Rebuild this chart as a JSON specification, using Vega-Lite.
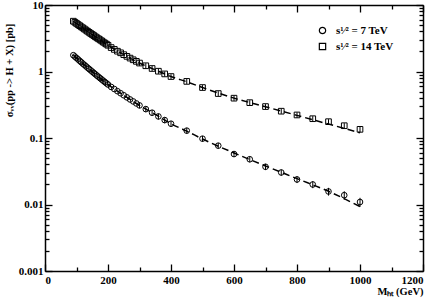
{
  "$schema": "https://vega.github.io/schema/vega-lite/v6.json",
  "width": 378,
  "height": 266,
  "autosize": {"type": "none"},
  "padding": {"left": 45, "top": 5, "right": 13, "bottom": 32},
  "background": "white",
  "config": {
    "view": {"stroke": null},
    "axis": {
      "grid": false,
      "domainColor": "black",
      "domainWidth": 1.5,
      "tickColor": "black",
      "tickWidth": 1.3,
      "labelFont": "Liberation Serif",
      "labelFontWeight": "bold",
      "labelFontSize": 11,
      "labelColor": "black",
      "titleFont": "Liberation Serif",
      "titleFontWeight": "bold",
      "titleFontSize": 10.5,
      "titleColor": "black"
    },
    "legend": {
      "labelFont": "Liberation Serif",
      "labelFontWeight": "bold",
      "labelFontSize": 11,
      "labelColor": "black"
    }
  },
  "datasets": {
    "pts": [
      {"m": 90, "xs": 1.758, "series": "7 TeV"},
      {"m": 95, "xs": 1.675, "series": "7 TeV"},
      {"m": 100, "xs": 1.596, "series": "7 TeV"},
      {"m": 105, "xs": 1.521, "series": "7 TeV"},
      {"m": 110, "xs": 1.449, "series": "7 TeV"},
      {"m": 115, "xs": 1.380, "series": "7 TeV"},
      {"m": 120, "xs": 1.315, "series": "7 TeV"},
      {"m": 125, "xs": 1.256, "series": "7 TeV"},
      {"m": 130, "xs": 1.197, "series": "7 TeV"},
      {"m": 135, "xs": 1.143, "series": "7 TeV"},
      {"m": 140, "xs": 1.091, "series": "7 TeV"},
      {"m": 145, "xs": 1.042, "series": "7 TeV"},
      {"m": 150, "xs": 0.995, "series": "7 TeV"},
      {"m": 155, "xs": 0.951, "series": "7 TeV"},
      {"m": 160, "xs": 0.908, "series": "7 TeV"},
      {"m": 165, "xs": 0.867, "series": "7 TeV"},
      {"m": 170, "xs": 0.830, "series": "7 TeV"},
      {"m": 175, "xs": 0.793, "series": "7 TeV"},
      {"m": 180, "xs": 0.759, "series": "7 TeV"},
      {"m": 185, "xs": 0.726, "series": "7 TeV"},
      {"m": 190, "xs": 0.695, "series": "7 TeV"},
      {"m": 195, "xs": 0.665, "series": "7 TeV"},
      {"m": 200, "xs": 0.637, "series": "7 TeV"},
      {"m": 210, "xs": 0.586, "series": "7 TeV"},
      {"m": 220, "xs": 0.545, "series": "7 TeV"},
      {"m": 230, "xs": 0.506, "series": "7 TeV"},
      {"m": 240, "xs": 0.471, "series": "7 TeV"},
      {"m": 250, "xs": 0.439, "series": "7 TeV"},
      {"m": 260, "xs": 0.408, "series": "7 TeV"},
      {"m": 270, "xs": 0.380, "series": "7 TeV"},
      {"m": 280, "xs": 0.355, "series": "7 TeV"},
      {"m": 290, "xs": 0.331, "series": "7 TeV"},
      {"m": 300, "xs": 0.309, "series": "7 TeV", "lo": 0.280, "hi": 0.340},
      {"m": 320, "xs": 0.272, "series": "7 TeV", "lo": 0.245, "hi": 0.299},
      {"m": 340, "xs": 0.240, "series": "7 TeV", "lo": 0.216, "hi": 0.264},
      {"m": 360, "xs": 0.211, "series": "7 TeV", "lo": 0.190, "hi": 0.232},
      {"m": 380, "xs": 0.186, "series": "7 TeV", "lo": 0.167, "hi": 0.205},
      {"m": 400, "xs": 0.164, "series": "7 TeV", "lo": 0.148, "hi": 0.180},
      {"m": 450, "xs": 0.129, "series": "7 TeV", "lo": 0.116, "hi": 0.142},
      {"m": 500, "xs": 0.0977, "series": "7 TeV", "lo": 0.088, "hi": 0.107},
      {"m": 550, "xs": 0.0767, "series": "7 TeV", "lo": 0.069, "hi": 0.084},
      {"m": 600, "xs": 0.0574, "series": "7 TeV", "lo": 0.0517, "hi": 0.0631},
      {"m": 650, "xs": 0.0479, "series": "7 TeV", "lo": 0.0431, "hi": 0.0527},
      {"m": 700, "xs": 0.0369, "series": "7 TeV", "lo": 0.0330, "hi": 0.0408},
      {"m": 750, "xs": 0.0303, "series": "7 TeV", "lo": 0.0271, "hi": 0.0335},
      {"m": 800, "xs": 0.0238, "series": "7 TeV", "lo": 0.0210, "hi": 0.0266},
      {"m": 850, "xs": 0.0200, "series": "7 TeV", "lo": 0.0176, "hi": 0.0224},
      {"m": 900, "xs": 0.0157, "series": "7 TeV", "lo": 0.0136, "hi": 0.0178},
      {"m": 950, "xs": 0.0138, "series": "7 TeV", "lo": 0.0118, "hi": 0.0158},
      {"m": 1000, "xs": 0.0109, "series": "7 TeV", "lo": 0.0092, "hi": 0.0126},
      {"m": 90, "xs": 5.71, "series": "14 TeV"},
      {"m": 95, "xs": 5.50, "series": "14 TeV"},
      {"m": 100, "xs": 5.28, "series": "14 TeV"},
      {"m": 105, "xs": 5.08, "series": "14 TeV"},
      {"m": 110, "xs": 4.89, "series": "14 TeV"},
      {"m": 115, "xs": 4.70, "series": "14 TeV"},
      {"m": 120, "xs": 4.53, "series": "14 TeV"},
      {"m": 125, "xs": 4.36, "series": "14 TeV"},
      {"m": 130, "xs": 4.19, "series": "14 TeV"},
      {"m": 135, "xs": 4.03, "series": "14 TeV"},
      {"m": 140, "xs": 3.88, "series": "14 TeV"},
      {"m": 145, "xs": 3.73, "series": "14 TeV"},
      {"m": 150, "xs": 3.60, "series": "14 TeV"},
      {"m": 155, "xs": 3.47, "series": "14 TeV"},
      {"m": 160, "xs": 3.33, "series": "14 TeV"},
      {"m": 165, "xs": 3.21, "series": "14 TeV"},
      {"m": 170, "xs": 3.10, "series": "14 TeV"},
      {"m": 175, "xs": 2.99, "series": "14 TeV"},
      {"m": 180, "xs": 2.88, "series": "14 TeV"},
      {"m": 185, "xs": 2.77, "series": "14 TeV"},
      {"m": 190, "xs": 2.67, "series": "14 TeV"},
      {"m": 195, "xs": 2.58, "series": "14 TeV"},
      {"m": 200, "xs": 2.48, "series": "14 TeV"},
      {"m": 210, "xs": 2.29, "series": "14 TeV"},
      {"m": 220, "xs": 2.15, "series": "14 TeV"},
      {"m": 230, "xs": 2.02, "series": "14 TeV"},
      {"m": 240, "xs": 1.91, "series": "14 TeV"},
      {"m": 250, "xs": 1.79, "series": "14 TeV"},
      {"m": 260, "xs": 1.69, "series": "14 TeV"},
      {"m": 270, "xs": 1.59, "series": "14 TeV"},
      {"m": 280, "xs": 1.50, "series": "14 TeV"},
      {"m": 290, "xs": 1.42, "series": "14 TeV"},
      {"m": 300, "xs": 1.34, "series": "14 TeV", "lo": 1.22, "hi": 1.46},
      {"m": 320, "xs": 1.22, "series": "14 TeV", "lo": 1.11, "hi": 1.33},
      {"m": 340, "xs": 1.11, "series": "14 TeV", "lo": 1.01, "hi": 1.21},
      {"m": 360, "xs": 1.01, "series": "14 TeV", "lo": 0.92, "hi": 1.10},
      {"m": 380, "xs": 0.92, "series": "14 TeV", "lo": 0.84, "hi": 1.00},
      {"m": 400, "xs": 0.84, "series": "14 TeV", "lo": 0.77, "hi": 0.91},
      {"m": 450, "xs": 0.71, "series": "14 TeV", "lo": 0.65, "hi": 0.77},
      {"m": 500, "xs": 0.574, "series": "14 TeV", "lo": 0.525, "hi": 0.623},
      {"m": 550, "xs": 0.466, "series": "14 TeV", "lo": 0.426, "hi": 0.506},
      {"m": 600, "xs": 0.397, "series": "14 TeV", "lo": 0.363, "hi": 0.431},
      {"m": 650, "xs": 0.340, "series": "14 TeV", "lo": 0.311, "hi": 0.369},
      {"m": 700, "xs": 0.297, "series": "14 TeV", "lo": 0.271, "hi": 0.323},
      {"m": 750, "xs": 0.253, "series": "14 TeV", "lo": 0.231, "hi": 0.275},
      {"m": 800, "xs": 0.222, "series": "14 TeV", "lo": 0.202, "hi": 0.242},
      {"m": 850, "xs": 0.195, "series": "14 TeV", "lo": 0.177, "hi": 0.213},
      {"m": 900, "xs": 0.176, "series": "14 TeV", "lo": 0.160, "hi": 0.192},
      {"m": 950, "xs": 0.153, "series": "14 TeV", "lo": 0.139, "hi": 0.167},
      {"m": 1000, "xs": 0.135, "series": "14 TeV", "lo": 0.122, "hi": 0.148}
    ],
    "fit": [
      {"m": 90, "xs": 1.76, "series": "7 TeV"},
      {"m": 150, "xs": 0.995, "series": "7 TeV"},
      {"m": 200, "xs": 0.637, "series": "7 TeV"},
      {"m": 250, "xs": 0.439, "series": "7 TeV"},
      {"m": 300, "xs": 0.309, "series": "7 TeV"},
      {"m": 350, "xs": 0.226, "series": "7 TeV"},
      {"m": 400, "xs": 0.164, "series": "7 TeV"},
      {"m": 450, "xs": 0.127, "series": "7 TeV"},
      {"m": 500, "xs": 0.0965, "series": "7 TeV"},
      {"m": 600, "xs": 0.0596, "series": "7 TeV"},
      {"m": 700, "xs": 0.038, "series": "7 TeV"},
      {"m": 800, "xs": 0.0245, "series": "7 TeV"},
      {"m": 900, "xs": 0.0158, "series": "7 TeV"},
      {"m": 1000, "xs": 0.0093, "series": "7 TeV"},
      {"m": 90, "xs": 5.71, "series": "14 TeV"},
      {"m": 150, "xs": 3.60, "series": "14 TeV"},
      {"m": 200, "xs": 2.48, "series": "14 TeV"},
      {"m": 250, "xs": 1.79, "series": "14 TeV"},
      {"m": 300, "xs": 1.34, "series": "14 TeV"},
      {"m": 350, "xs": 1.06, "series": "14 TeV"},
      {"m": 400, "xs": 0.84, "series": "14 TeV"},
      {"m": 450, "xs": 0.70, "series": "14 TeV"},
      {"m": 500, "xs": 0.574, "series": "14 TeV"},
      {"m": 600, "xs": 0.398, "series": "14 TeV"},
      {"m": 700, "xs": 0.295, "series": "14 TeV"},
      {"m": 800, "xs": 0.219, "series": "14 TeV"},
      {"m": 900, "xs": 0.162, "series": "14 TeV"},
      {"m": 1000, "xs": 0.120, "series": "14 TeV"}
    ]
  },
  "layer": [
    {
      "data": {"name": "fit"},
      "mark": {"type": "line", "color": "black", "strokeWidth": 1.5, "strokeDash": [7, 4], "interpolate": "monotone"},
      "encoding": {
        "x": {"field": "m", "type": "quantitative", "scale": {"domain": [0, 1200], "nice": false},
          "axis": {"values": [0,100,200,300,400,500,600,700,800,900,1000,1100,1200],
            "format": "d",
            "labelExpr": "datum.value % 200 === 0 ? datum.label : ''",
            "tickSize": {"condition": {"test": "datum.value % 200 === 0", "value": -7}, "value": -4},
            "labelPadding": 10,
            "title": "Mₕₜ (GeV)", "titleAnchor": "end", "titleAlign": "right", "titleBaseline": "top", "titleX": 378, "titleY": 15}},
        "y": {"field": "xs", "type": "quantitative", "scale": {"type": "log", "domain": [0.001, 10], "nice": false},
          "axis": {"values": [0.001,0.002,0.003,0.004,0.005,0.006,0.007,0.008,0.009,0.01,0.02,0.03,0.04,0.05,0.06,0.07,0.08,0.09,0.1,0.2,0.3,0.4,0.5,0.6,0.7,0.8,0.9,1,2,3,4,5,6,7,8,9,10],
            "format": "~g",
            "labelExpr": "abs(log(datum.value)/LN10 - round(log(datum.value)/LN10)) < 0.001 ? datum.label : ''",
            "tickSize": {"condition": {"test": "abs(log(datum.value)/LN10 - round(log(datum.value)/LN10)) < 0.001", "value": -7}, "value": -4},
            "labelPadding": 9,
            "title": "σᵥᵥ(pp -> H + X) [pb]", "titleAngle": -90, "titleAlign": "center", "titleBaseline": "middle", "titleX": -36, "titleY": 65}},
        "detail": {"field": "series"}
      }
    },
    {
      "data": {"name": "pts"},
      "transform": [{"filter": "isValid(datum.lo)"}],
      "mark": {"type": "rule", "color": "black", "strokeWidth": 1},
      "encoding": {
        "x": {"field": "m", "type": "quantitative", "axis": null},
        "y": {"field": "lo", "type": "quantitative", "axis": null},
        "y2": {"field": "hi"}
      }
    },
    {
      "data": {"name": "pts"},
      "mark": {"type": "point", "filled": false, "color": "black", "strokeWidth": 1, "size": 32, "opacity": 1},
      "encoding": {
        "x": {"field": "m", "type": "quantitative", "axis": null},
        "y": {"field": "xs", "type": "quantitative", "axis": null},
        "shape": {"field": "series", "type": "nominal",
          "scale": {"domain": ["7 TeV", "14 TeV"], "range": ["circle", "square"]},
          "legend": {"title": null, "orient": "none", "legendX": 272, "legendY": 20,
            "symbolStrokeColor": "black", "symbolFillColor": "transparent", "symbolStrokeWidth": 1.2, "symbolSize": 40,
            "rowPadding": 3, "labelOffset": 8,
            "labelExpr": "datum.label == '7 TeV' ? 's¹⁄² =  7  TeV' : 's¹⁄² = 14 TeV'"}}
      }
    },
    {
      "data": {"name": "fit"},
      "mark": {"type": "point", "opacity": 0},
      "encoding": {
        "x": {"field": "m", "type": "quantitative",
          "axis": {"orient": "top", "values": [0,100,200,300,400,500,600,700,800,900,1000,1100,1200], "labels": false, "title": null,
            "tickSize": {"condition": {"test": "datum.value % 200 === 0", "value": -7}, "value": -4}}},
        "y": {"field": "xs", "type": "quantitative",
          "axis": {"orient": "right", "values": [0.001,0.002,0.003,0.004,0.005,0.006,0.007,0.008,0.009,0.01,0.02,0.03,0.04,0.05,0.06,0.07,0.08,0.09,0.1,0.2,0.3,0.4,0.5,0.6,0.7,0.8,0.9,1,2,3,4,5,6,7,8,9,10], "labels": false, "title": null,
            "tickSize": {"condition": {"test": "abs(log(datum.value)/LN10 - round(log(datum.value)/LN10)) < 0.001", "value": -7}, "value": -4}}}
      }
    }
  ],
  "resolve": {"axis": {"x": "independent", "y": "independent"}}
}
